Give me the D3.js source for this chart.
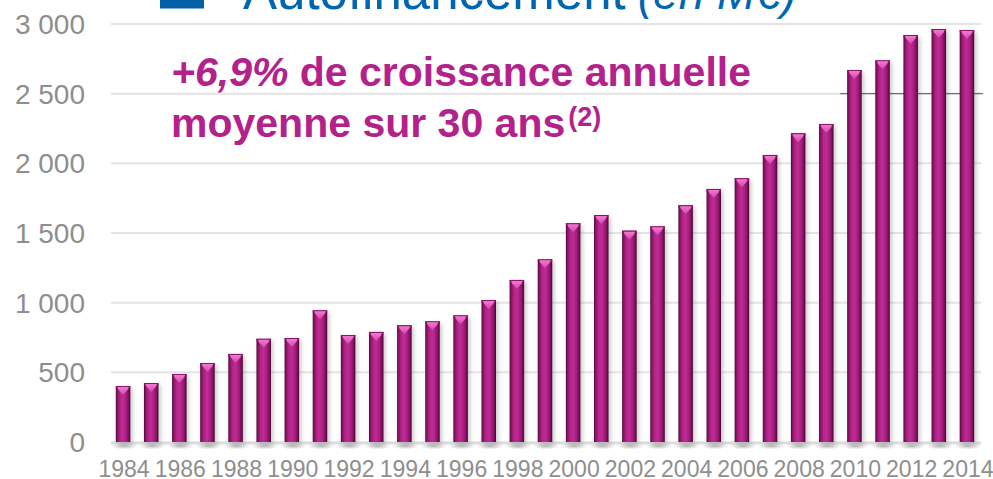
<!DOCTYPE html>
<html>
<head>
<meta charset="utf-8">
<script src="https://cdn.jsdelivr.net/npm/d3@7"></script>
<style>
  html, body { margin: 0; padding: 0; background: #fff; }
  svg { display: block; font-family: "Liberation Sans", Arial, sans-serif; }
</style>
</head>
<body>
<svg id="chart" width="993" height="479"></svg>
<script>
// Autofinancement annuel, en millions d'euros
const years = d3.range(1984, 2015);
const values = [402, 423, 488, 567, 632, 741, 746, 945, 768, 790,
                838, 866, 909, 1019, 1163, 1311, 1570, 1629, 1517, 1548,
                1699, 1816, 1893, 2060, 2216, 2282, 2670, 2739, 2921, 2964, 2957];
const yTicks = [0, 500, 1000, 1500, 2000, 2500, 3000];
const xTickYears = years.filter(y => y % 2 === 0);

const titleMain = "Autofinancement";
const titleUnit = "(en M€)";
const noteRate = "+6,9%";
const noteLine1 = " de croissance annuelle";
const noteLine2 = "moyenne sur 30 ans";
const noteRef = "(2)";

const svg = d3.select("#chart");
const data = years.map((y, i) => ({ year: y, value: values[i] }));

const x = d3.scaleBand().domain(years).range([109, 981])
  .paddingInner(0.485).paddingOuter(0.2425);
const y = d3.scaleLinear().domain([0, 3000]).range([442, 24]);

const fmt = v => d3.format(",")(v).replace(/,/g, " ");

// defs: bar shading and cap
const defs = svg.append("defs");
const g1 = defs.append("linearGradient").attr("id", "barBody")
  .attr("x1", "0").attr("x2", "1").attr("y1", "0").attr("y2", "0");
[[0, "#4a0634"], [0.1, "#861262"], [0.3, "#b4248a"], [0.5, "#bc2c92"],
 [0.72, "#a81c80"], [0.9, "#780f58"], [1, "#3e052c"]]
  .forEach(([o, c]) => g1.append("stop").attr("offset", o).attr("stop-color", c));
const g2 = defs.append("linearGradient").attr("id", "capGrad")
  .attr("x1", "0").attr("x2", "0").attr("y1", "0").attr("y2", "1");
[[0, "#f478d2"], [1, "#d04aa8"]]
  .forEach(([o, c]) => g2.append("stop").attr("offset", o).attr("stop-color", c));
const sh = defs.append("radialGradient").attr("id", "floorShadow");
[[0, "rgba(120,120,120,0.55)"], [1, "rgba(160,160,160,0)"]]
  .forEach(([o, c]) => sh.append("stop").attr("offset", o).attr("stop-color", c));
const blur = defs.append("filter").attr("id", "soft")
  .attr("x", "-50%").attr("y", "-10%").attr("width", "200%").attr("height", "120%");
blur.append("feGaussianBlur").attr("stdDeviation", 2);

// title (partly above the frame)
svg.append("rect").attr("x", 160).attr("y", -30).attr("width", 44).attr("height", 38.5)
  .attr("fill", "#0061a6");
const title = svg.append("text").attr("x", 243).attr("y", 8.5)
  .attr("fill", "#0066b0").style("font-size", "51px");
title.append("tspan").text(titleMain);
title.append("tspan").attr("dx", 12).style("font-style", "italic")
  .style("font-size", "46px").text(titleUnit);

// grid lines
svg.append("g").selectAll("line")
  .data(yTicks.filter(t => t > 0))
  .join("line")
  .attr("x1", 111).attr("x2", 981)
  .attr("y1", d => y(d)).attr("y2", d => y(d))
  .attr("stroke", "#e4e4e4").attr("stroke-width", 2);

// darker segment on the 2 500 line on the right
svg.append("line")
  .attr("x1", x(2010) - 7).attr("x2", 983)
  .attr("y1", y(2500)).attr("y2", y(2500))
  .attr("stroke", "#5a5a5a").attr("stroke-width", 1);

// baseline
svg.append("line").attr("x1", 111).attr("x2", 981)
  .attr("y1", y(0) + 1).attr("y2", y(0) + 1)
  .attr("stroke", "#dcdcdc").attr("stroke-width", 3);

// y tick labels
svg.append("g").selectAll("text")
  .data(yTicks).join("text")
  .attr("x", 85).attr("y", d => y(d) + 10)
  .attr("text-anchor", "end")
  .attr("fill", "#8e8e8e").style("font-size", "28px")
  .text(fmt);

// x tick labels
svg.append("g").selectAll("text")
  .data(xTickYears).join("text")
  .attr("x", d => x(d) + x.bandwidth() / 2 + 1)
  .attr("y", 477)
  .attr("text-anchor", "middle")
  .attr("fill", "#8e8e8e").style("font-size", "23px")
  .text(d => d);

// bars
const bars = svg.append("g").selectAll("g").data(data).join("g");
const bw = x.bandwidth();

bars.append("ellipse")
  .attr("cx", d => x(d.year) + bw / 2 + 1)
  .attr("cy", y(0) + 4)
  .attr("rx", bw * 0.95).attr("ry", 3.5)
  .attr("fill", "url(#floorShadow)");

bars.append("rect")
  .attr("x", d => x(d.year) + 2)
  .attr("y", d => y(d.value) + 2)
  .attr("width", bw)
  .attr("height", d => y(0) - y(d.value))
  .attr("fill", "rgba(90,90,90,0.35)")
  .attr("filter", "url(#soft)");

bars.append("rect")
  .attr("x", d => x(d.year))
  .attr("y", d => y(d.value))
  .attr("width", bw)
  .attr("height", d => y(0) - y(d.value))
  .attr("fill", "url(#barBody)");

bars.append("rect")
  .attr("x", d => x(d.year))
  .attr("y", d => y(d.value))
  .attr("width", bw)
  .attr("height", 2.5)
  .attr("fill", "#8a1466");

bars.append("path")
  .attr("d", d => {
    const l = x(d.year) + 1.5, r = x(d.year) + bw - 1.5, t = y(d.value) + 1;
    const m = x(d.year) + bw / 2;
    return `M${l},${t}L${r},${t}L${r - 1},${t + 2.5}L${m},${t + 8}L${l + 1},${t + 2.5}Z`;
  })
  .attr("fill", "url(#capGrad)");

// annotation
const note = svg.append("g").attr("fill", "#b3228b")
  .style("font-weight", "bold").style("font-size", "41px");
const l1 = note.append("text").attr("x", 171).attr("y", 86);
l1.append("tspan").style("font-style", "italic").text(noteRate);
l1.append("tspan").text(noteLine1);
const l2 = note.append("text").attr("x", 171).attr("y", 137);
l2.append("tspan").text(noteLine2);
l2.append("tspan").attr("dx", 3).attr("dy", -11).style("font-size", "27px").text(noteRef);
</script>
</body>
</html>
